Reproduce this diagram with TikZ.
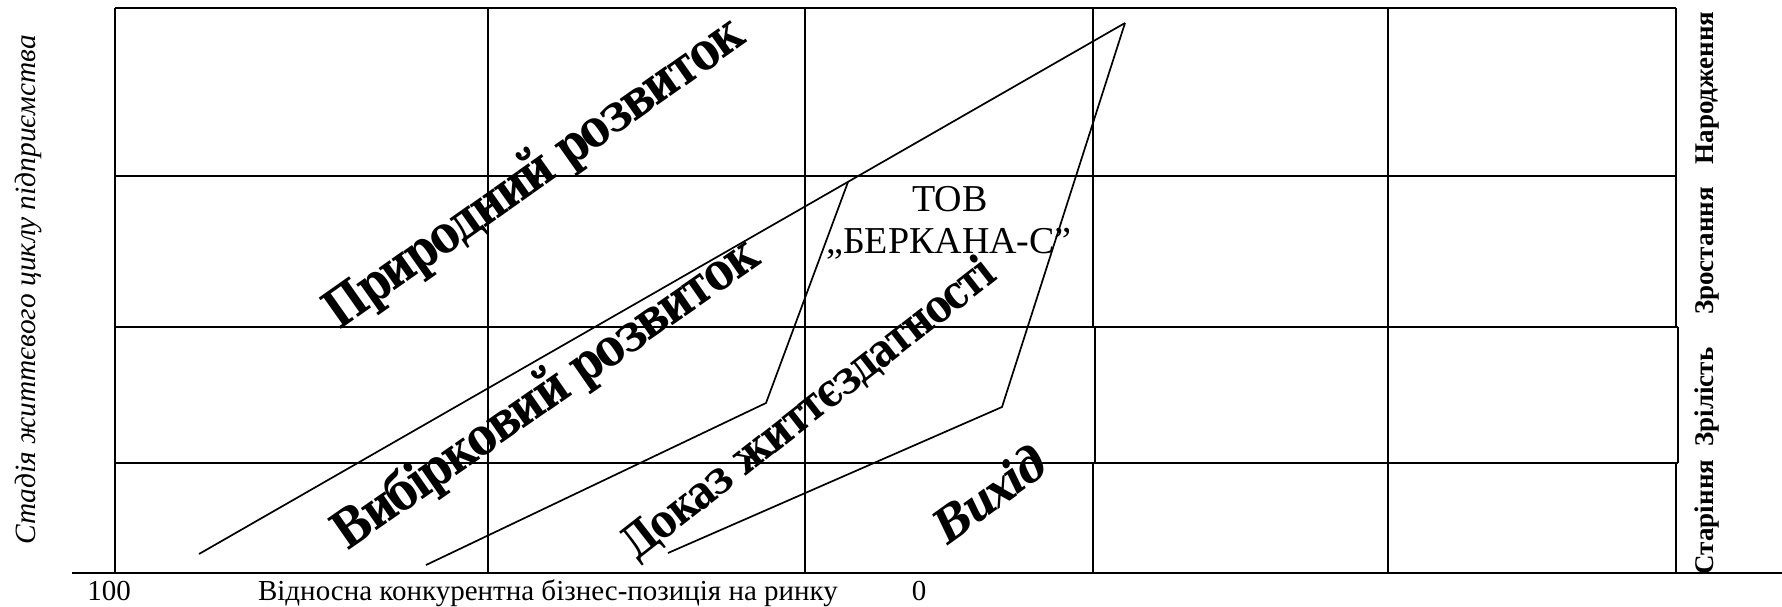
\documentclass[tikz,border=0pt]{standalone}
\usepackage{fontspec}
\usepackage{graphicx}
\setmainfont{Liberation Serif}
\newfontfamily\dejabold[LetterSpace=-6]{DejaVu Serif}
\tikzset{
  gridline/.style={line width=1.4pt},
  pathline/.style={line width=0.85pt, line join=miter},
  diagtext/.style={inner sep=0pt, anchor=base, font=\dejabold\bfseries},
  axistext/.style={inner sep=0pt, anchor=base, font=\fontsize{14.5}{16}\selectfont},
  stagetext/.style={inner sep=0pt, anchor=base, rotate=90, font=\fontsize{13.5}{15}\selectfont\bfseries},
  firmtext/.style={inner sep=0pt, anchor=base, font=\fontsize{19}{21}\selectfont}
}
\newcommand{\tallfit}[3]{\resizebox{#1}{!}{\scalebox{1}[#2]{#3}}}
\begin{document}
\begin{tikzpicture}[x=0.5pt,y=-0.5pt]
\useasboundingbox (0,0) rectangle (1782,606);
% table grid
\draw[gridline] (115,8) -- (1676,8);
\draw[gridline] (115,176) -- (1676,176);
\draw[gridline] (115,327) -- (1678,327);
\draw[gridline] (115,463) -- (1678,463);
\draw[gridline] (115,8) -- (115,573);
\draw[gridline] (488,8) -- (488,573);
\draw[gridline] (805,8) -- (805,573);
\draw[gridline] (1093,8) -- (1093,327);
\draw[gridline] (1095,327) -- (1095,463);
\draw[gridline] (1093,463) -- (1093,573);
\draw[gridline] (1388,8) -- (1388,573);
\draw[gridline] (1676,8) -- (1676,327);
\draw[gridline] (1678,327) -- (1678,463);
\draw[gridline] (1676,463) -- (1676,573);
% axis
\coordinate (axL) at (72,573);
\coordinate (axR) at (1782,573);
\draw[gridline] (axL) -- (axR);
% development paths
\coordinate (n0) at (199,554);
\coordinate (apex) at (1125,23);
\coordinate (s0) at (426,565);
\coordinate (s1) at (766,403);
\coordinate (s2) at (848,182);
\coordinate (v0) at (668,553);
\coordinate (v1) at (1002,407);
\draw[pathline] (n0) -- (apex);
\draw[pathline] (s0) -- (s1) -- (s2);
\draw[pathline] (v0) -- (v1) -- (apex);
% diagonal labels
\node[diagtext, rotate=35.2] (natural) at (544,186) {\tallfit{250pt}{1.2}{Природний розвиток}};
\node[diagtext, rotate=34.8] (select) at (555,407) {\tallfit{253pt}{1.2}{Вибірковий розвиток}};
\node[diagtext, rotate=38] (proof) at (818,420) {\tallfit{230pt}{1.2}{Доказ життєздатності}};
\node[diagtext, rotate=35.7] (exit) at (1000,508) {\tallfit{64pt}{1.1}{\itshape Вихід}};
% firm
\node[firmtext] (tov) at (950,211) {ТОВ};
\node[firmtext] (berk) at (949,253) {„БЕРКАНА-С”};
% axis texts
\node[axistext] (h100) at (109,600) {100};
\node[axistext] (xlab) at (548,600) {Відносна конкурентна бізнес-позиція на ринку};
\node[axistext] (h0) at (919,600) {0};
% left label
\node[inner sep=0pt, anchor=base, rotate=90, font=\fontsize{14.7}{17}\selectfont\itshape] (ylab) at (35,290) {Стадія життєвого циклу підприємства};
% stages
\node[stagetext] (st1) at (1713,88) {Народження};
\node[stagetext] (st2) at (1713,251) {Зростання};
\node[stagetext] (st3) at (1713,397) {Зрілість};
\node[stagetext] (st4) at (1713,517) {Старіння};
\end{tikzpicture}
\end{document}
